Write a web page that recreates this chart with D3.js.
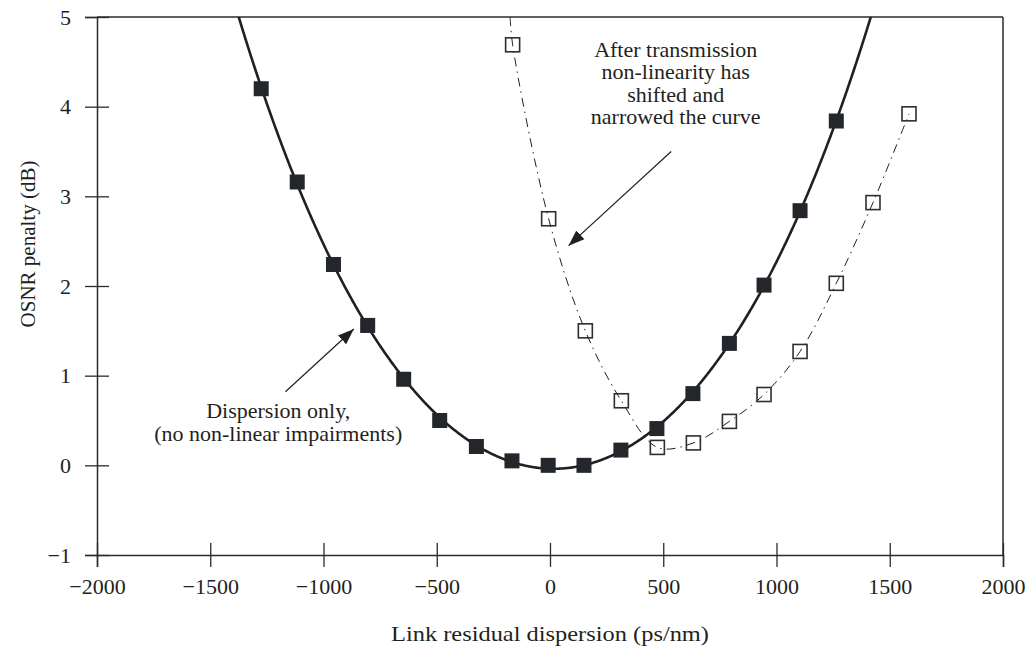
<!DOCTYPE html>
<html><head><meta charset="utf-8">
<script src="https://cdn.jsdelivr.net/npm/d3@7"></script>
<style>
body{margin:0;background:#fff;}
text{font-family:"Liberation Serif","Times New Roman",serif;fill:#231f20;}
</style>
</head><body><svg id="chart" width="1029" height="651"></svg>
<script>
// ---- data ----
const xTicks = [-2000, -1500, -1000, -500, 0, 500, 1000, 1500, 2000];
const yTicks = [-1, 0, 1, 2, 3, 4, 5];
// Dispersion only (filled squares)
const dispOnlyX = [-1275, -1116, -956, -805, -646, -487, -325, -168, -8, 150, 313, 472, 631, 792, 945, 1104, 1264];
const dispOnlyY = [4.20, 3.16, 2.24, 1.56, 0.96, 0.50, 0.21, 0.05, 0.00, 0.00, 0.17, 0.41, 0.80, 1.36, 2.01, 2.84, 3.84];
// After transmission non-linearity (open squares)
const nonlinX = [-165, -6, 156, 315, 474, 633, 792, 945, 1104, 1264, 1426, 1585];
const nonlinY = [4.69, 2.75, 1.50, 0.72, 0.20, 0.25, 0.49, 0.79, 1.27, 2.03, 2.93, 3.92];
// where the dash-dot trend leaves the top of the frame
const nonlinTrendStartX = [-176];
const nonlinTrendStartY = [5.0];

const xLabel = "Link residual dispersion (ps/nm)";
const yLabel = "OSNR penalty (dB)";
const noteNonlin = ["After transmission", "non-linearity has", "shifted and", "narrowed the curve"];
const noteDisp = ["Dispersion only,", "(no non-linear impairments)"];
// annotation anchors in data units
const noteNonlinAt = [555, 4.555];
const noteNonlinArrow = [[535, 3.50], [82, 2.45]];
const noteDispAt = [-1200, 0.527];
const noteDispArrow = [[-1168, 0.82], [-866, 1.52]];

// ---- layout ----
const svg = d3.select("#chart");
const L = 97, R = 1003, T = 17, B = 555;
const x = d3.scaleLinear().domain([-2000, 2000]).range([L, R]);
const y = d3.scaleLinear().domain([-1, 5]).range([B, T]);
const ink = "#231f20", axisInk = "#2b2b2b";

svg.append("defs").append("clipPath").attr("id", "plotclip")
  .append("rect").attr("x", L).attr("y", T).attr("width", R - L).attr("height", B - T);
svg.select("defs").append("marker").attr("id", "arrow")
  .attr("markerUnits", "userSpaceOnUse").attr("markerWidth", 18).attr("markerHeight", 14)
  .attr("viewBox", "0 -7 18 14").attr("refX", 16).attr("refY", 0).attr("orient", "auto")
  .append("path").attr("d", "M0,-6L16,0L0,6Z").attr("fill", ink);

// frame top & right
svg.append("line").attr("x1", L).attr("x2", R).attr("y1", T).attr("y2", T)
  .attr("stroke", axisInk).attr("stroke-width", 1.5);
svg.append("line").attr("x1", R).attr("x2", R).attr("y1", T).attr("y2", B)
  .attr("stroke", axisInk).attr("stroke-width", 1.5);

// axes
const gx = svg.append("g").attr("transform", `translate(0,${B})`)
  .call(d3.axisBottom(x).tickValues(xTicks).tickSize(12).tickPadding(11).tickFormat(d3.format("d")));
gx.selectAll(".tick line").attr("y1", -12).attr("y2", 12);
const gy = svg.append("g").attr("transform", `translate(${L},0)`)
  .call(d3.axisLeft(y).tickValues(yTicks).tickSize(12).tickPadding(14).tickFormat(d3.format("d")));
gy.selectAll(".tick line").attr("x1", -12).attr("x2", 12);
[gx, gy].forEach(g => {
  g.select(".domain").attr("stroke", axisInk).attr("stroke-width", 1.5);
  g.selectAll(".tick line").attr("stroke", axisInk).attr("stroke-width", 1.3);
  g.selectAll(".tick text").attr("font-family", '"Liberation Serif",serif').attr("font-size", 22).attr("fill", ink);
});

svg.append("text").attr("x", x(0)).attr("y", 641).attr("text-anchor", "middle")
  .attr("font-size", 22).attr("textLength", 318).attr("lengthAdjust", "spacingAndGlyphs").text(xLabel);
svg.append("text").attr("transform", `translate(35,${(T + B) / 2 - 42}) rotate(-90)`)
  .attr("text-anchor", "middle").attr("font-size", 21).text(yLabel);

// ---- least-squares polynomial trend for the dispersion-only curve ----
function polyfit(xs, ys, deg) {
  const n = deg + 1, A = Array.from({length: n}, () => new Array(n + 1).fill(0));
  xs.forEach((xv, k) => {
    const t = xv / 1000;
    for (let i = 0; i < n; i++) {
      for (let j = 0; j < n; j++) A[i][j] += Math.pow(t, i + j);
      A[i][n] += ys[k] * Math.pow(t, i);
    }
  });
  for (let i = 0; i < n; i++) {
    let p = i; for (let r = i + 1; r < n; r++) if (Math.abs(A[r][i]) > Math.abs(A[p][i])) p = r;
    [A[i], A[p]] = [A[p], A[i]];
    for (let r = 0; r < n; r++) if (r !== i) {
      const f = A[r][i] / A[i][i];
      for (let c = i; c <= n; c++) A[r][c] -= f * A[i][c];
    }
  }
  const coef = A.map((row, i) => row[n] / row[i]);
  return xv => coef.reduce((s, c, i) => s + c * Math.pow(xv / 1000, i), 0);
}
const fit = polyfit(dispOnlyX, dispOnlyY, 4);
const fitPts = d3.range(-1600, 1600.1, 4).map(v => [v, fit(v)]).filter(p => p[1] < 5.6);

const plot = svg.append("g").attr("clip-path", "url(#plotclip)");
plot.append("path").datum(fitPts)
  .attr("d", d3.line().x(d => x(d[0])).y(d => y(d[1])))
  .attr("fill", "none").attr("stroke", ink).attr("stroke-width", 2.6);

const nonlinTrend = nonlinTrendStartX.map((v, i) => [v, nonlinTrendStartY[i]])
  .concat(nonlinX.map((v, i) => [v, nonlinY[i]]));
plot.append("path").datum(nonlinTrend)
  .attr("d", d3.line().x(d => x(d[0])).y(d => y(d[1])).curve(d3.curveCatmullRom.alpha(0.5)))
  .attr("fill", "none").attr("stroke", ink).attr("stroke-width", 1)
  .attr("stroke-dasharray", "9,5,1.5,5");

// markers
const S = 15;
svg.append("g").selectAll("rect").data(dispOnlyX.map((v, i) => [v, dispOnlyY[i]])).join("rect")
  .attr("x", d => x(d[0]) - S / 2).attr("y", d => y(d[1]) - S / 2)
  .attr("width", S).attr("height", S).attr("fill", "#23272b");
const So = 14;
svg.append("g").selectAll("rect").data(nonlinX.map((v, i) => [v, nonlinY[i]])).join("rect")
  .attr("x", d => x(d[0]) - So / 2).attr("y", d => y(d[1]) - So / 2)
  .attr("width", So).attr("height", So).attr("fill", "none")
  .attr("stroke", "#2e2e2e").attr("stroke-width", 1.6);

// annotations (one text element per line)
function note(lines, at, size, step) {
  lines.forEach((s, i) => svg.append("text").attr("text-anchor", "middle").attr("font-size", size)
    .attr("x", x(at[0])).attr("y", y(at[1]) + i * step).text(s));
}
note(noteNonlin, noteNonlinAt, 22, 22.5);
note(noteDisp, noteDispAt, 22, 23);
[noteNonlinArrow, noteDispArrow].forEach(a => {
  svg.append("line").attr("x1", x(a[0][0])).attr("y1", y(a[0][1]))
    .attr("x2", x(a[1][0])).attr("y2", y(a[1][1]))
    .attr("stroke", ink).attr("stroke-width", 1.2).attr("marker-end", "url(#arrow)");
});
</script>
</body></html>
